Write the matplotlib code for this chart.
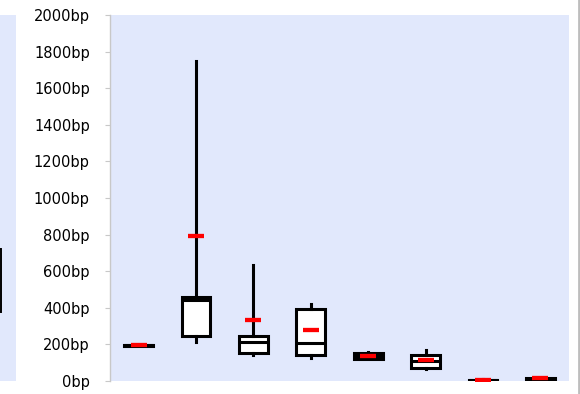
import matplotlib
matplotlib.use("Agg")
import matplotlib.pyplot as plt
from matplotlib.lines import Line2D

# box statistics (bp)
whisker_lo = [190, 215, 140, 127, 118, 64, 0, 8]
q1 = [191, 246, 155, 140, 122, 73, 2, 10]
median = [194, 443, 215, 208, 137, 108, 5, 13]
q3 = [196, 459, 246, 393, 152, 142, 8, 16]
whisker_hi = [198, 1749, 634, 421, 158, 169, 10, 18]
mean = [194, 791, 332, 279, 137, 113, 5, 14]

# partly visible box of the neighbouring chart
left_q1 = [377]
left_q3 = [721]

yticks = list(range(0, 2001, 200))
ytick_labels = [f"{v}bp" for v in yticks]

BG = "#E1E8FC"


def make_stats(lo, a, m, b, hi, mu):
    return [dict(whislo=lo[i], q1=a[i], med=m[i], q3=b[i], whishi=hi[i],
                 mean=mu[i], fliers=[]) for i in range(len(a))]


def draw_boxes(ax, stats, lw=2.2):
    ax.bxp(stats, positions=list(range(1, len(stats) + 1)), widths=0.5,
           showmeans=True, showcaps=False, showfliers=False, patch_artist=True,
           boxprops=dict(facecolor="white", edgecolor="black", linewidth=lw),
           whiskerprops=dict(color="black", linewidth=lw),
           medianprops=dict(color="black", linewidth=lw),
           meanprops=dict(marker="_", markeredgecolor="red", markersize=11,
                          markeredgewidth=3.1))


fig = plt.figure(figsize=(5.8, 3.94), dpi=100)

W, H = 580, 394
bottom = 1 - 381 / H
height = (381 - 15) / H

ax = fig.add_axes([110 / W, bottom, (569 - 110) / W, height])
ax.set_facecolor(BG)
draw_boxes(ax, make_stats(whisker_lo, q1, median, q3, whisker_hi, mean))
ax.set_xlim(0.5, len(q1) + 0.5)
ax.set_ylim(0, 2000)
ax.set_yticks(yticks)
ax.set_yticklabels(ytick_labels)
ax.set_xticks([])
for s in ["top", "right", "bottom"]:
    ax.spines[s].set_visible(False)
ax.spines["left"].set_color("#C8C8C8")
ax.spines["left"].set_linewidth(1.0)
ax.tick_params(axis="y", length=3.6, color="#C8C8C8", pad=11, labelsize=10.5,
               labelcolor="black")

# neighbouring chart, cut off at the left edge
ax2 = fig.add_axes([-44 / W, bottom, 60 / W, height])
ax2.set_facecolor(BG)
draw_boxes(ax2, make_stats(left_q1, left_q1, left_q3, left_q3, left_q3, left_q3),
           lw=1.4)
ax2.set_xlim(0.5, 1.5)
ax2.set_ylim(0, 2000)
ax2.set_xticks([])
ax2.set_yticks([])
for s in ax2.spines.values():
    s.set_visible(False)

fig.add_artist(Line2D([0.9975, 0.9975], [0, 1], color="#BDBDBD", lw=2,
                      transform=fig.transFigure))

fig.savefig("out.png", dpi=100)
plt.close(fig)
